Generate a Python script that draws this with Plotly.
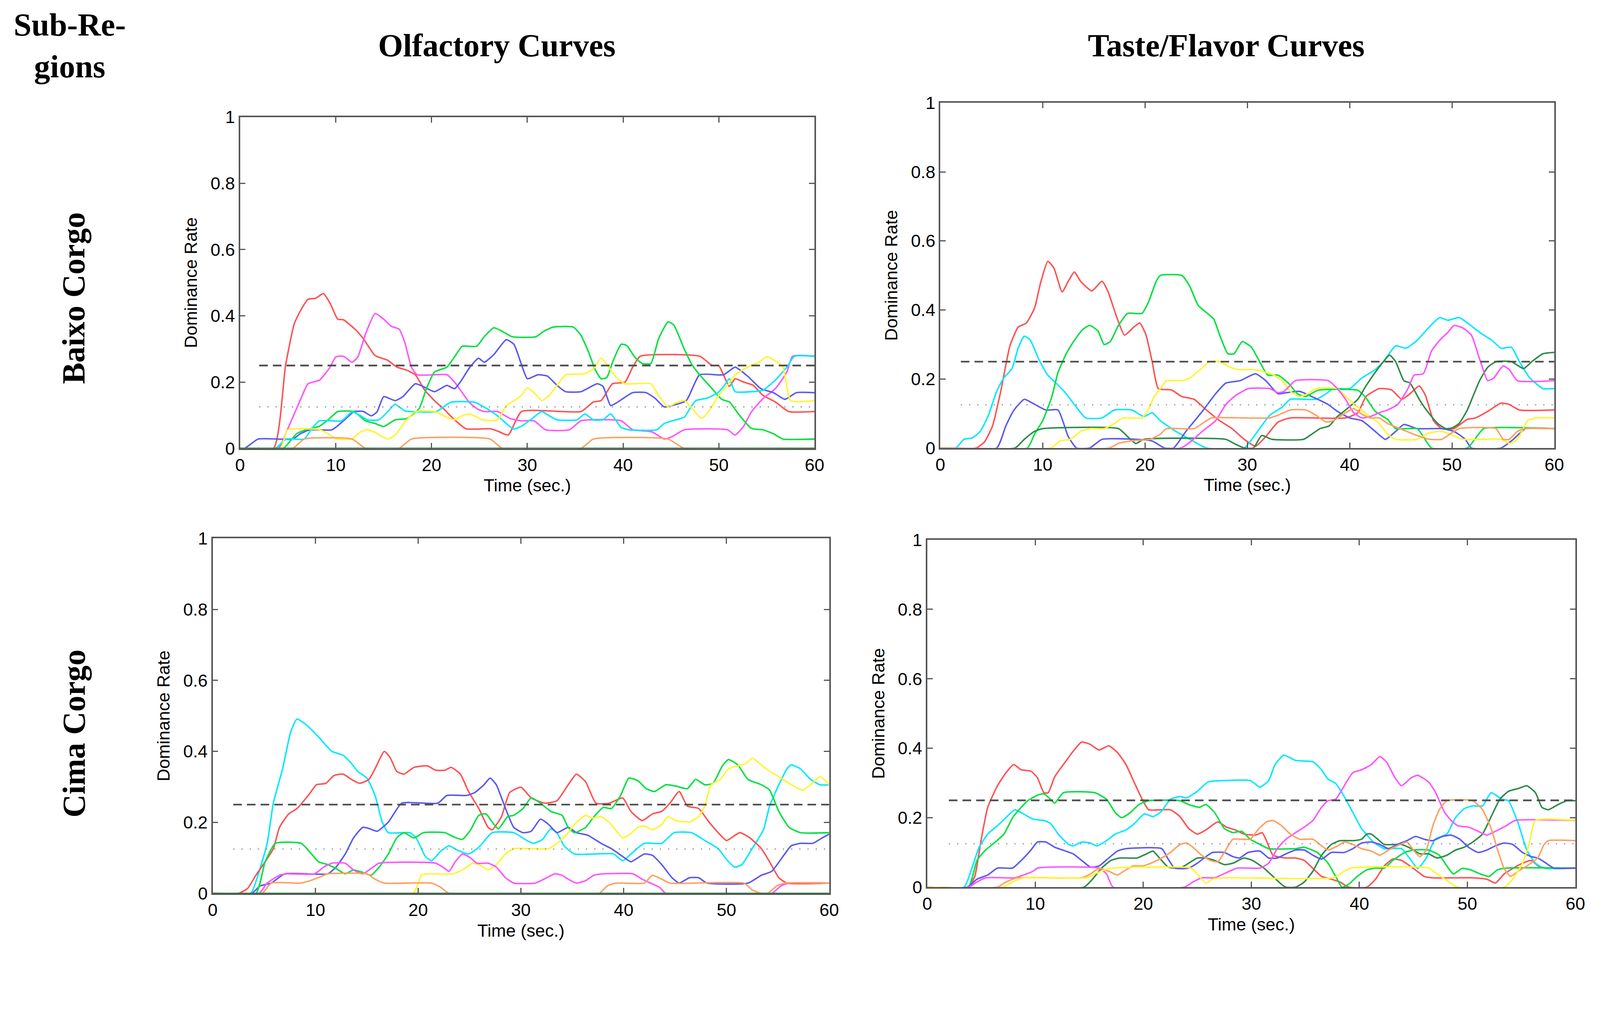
import plotly.graph_objects as go

# ---------------- data: (time in s, dominance rate) ----------------
# Olfactory / Baixo Corgo
OBC_RED = [(0,0),(3.5,0),(4.75,0.25),(5.66,0.376),(6.3,0.415),(7.1,0.45),(7.9,0.453),(8.7,0.467),(9.4,0.438),(10.2,0.39),(10.8,0.388),(12.1,0.357),(12.9,0.33),(14.1,0.28),(15.4,0.266),(16.4,0.245),(17.4,0.236),(18.3,0.222),(19.3,0.175),(20.3,0.144),(21.2,0.121),(22.4,0.086),(23.6,0.059),(26.1,0.059),(26.9,0.052),(28.0,0.04),(29.4,0.111),(35.6,0.111),(36.9,0.14),(37.7,0.144),(38.9,0.195),(40.2,0.2),(41.0,0.245),(41.8,0.278),(48.0,0.278),(49.3,0.25),(50.0,0.249),(51.1,0.187),(51.7,0.21),(52.6,0.2),(53.6,0.19),(54.6,0.16),(55.9,0.14),(57.3,0.111),(60,0.111)]
OBC_MAG = [(0,0),(4.0,0),(5.0,0.06),(5.9,0.12),(6.5,0.16),(7.1,0.195),(8.3,0.206),(9.4,0.245),(10.0,0.276),(10.8,0.278),(11.7,0.26),(12.3,0.276),(13.1,0.345),(14.1,0.407),(15.0,0.39),(15.8,0.368),(16.6,0.36),(17.2,0.32),(17.9,0.245),(18.5,0.222),(21.6,0.222),(22.4,0.2),(23.2,0.168),(24.0,0.137),(24.9,0.117),(25.5,0.111),(26.9,0.111),(28.2,0.09),(29.4,0.083),(30.7,0.083),(31.9,0.056),(34.4,0.056),(35.6,0.083),(39.8,0.083),(41.0,0.056),(43.0,0.05),(44.3,0.028),(45.1,0.035),(46.4,0.056),(50.9,0.056),(51.7,0.04),(52.6,0.067),(53.4,0.11),(54.6,0.15),(55.9,0.18),(57.1,0.23),(57.7,0.278),(60,0.278)]
OBC_BLUE = [(0,0),(0.5,0),(1.9,0.028),(5.5,0.028),(6.3,0.044),(7.3,0.056),(9.6,0.056),(10.8,0.083),(11.9,0.111),(12.9,0.111),(13.7,0.098),(14.3,0.11),(15.0,0.156),(16.2,0.144),(17.0,0.156),(18.3,0.195),(19.1,0.187),(20.3,0.171),(21.6,0.19),(22.4,0.18),(23.0,0.2),(24.0,0.245),(24.9,0.272),(25.5,0.26),(26.5,0.283),(27.8,0.328),(28.6,0.314),(29.4,0.252),(30.0,0.21),(31.1,0.222),(32.1,0.218),(33.1,0.19),(34.0,0.171),(35.6,0.171),(37.3,0.195),(37.9,0.187),(38.7,0.129),(39.3,0.137),(41.0,0.168),(42.4,0.168),(43.3,0.152),(44.3,0.125),(45.1,0.129),(46.6,0.144),(48.0,0.222),(50.5,0.222),(51.7,0.245),(53.0,0.218),(54.4,0.18),(55.7,0.168),(56.9,0.148),(58.1,0.168),(60,0.168)]
OBC_GREEN = [(0,0),(4.5,0),(5.9,0.044),(6.9,0.056),(8.3,0.067),(9.2,0.086),(10.2,0.111),(11.9,0.111),(13.1,0.083),(14.1,0.075),(15.0,0.066),(16.2,0.086),(17.4,0.09),(18.7,0.12),(19.5,0.183),(20.3,0.23),(21.6,0.245),(22.4,0.276),(23.2,0.308),(24.7,0.308),(25.5,0.337),(26.5,0.364),(27.4,0.353),(28.4,0.337),(30.9,0.337),(31.7,0.353),(32.7,0.366),(34.8,0.366),(35.6,0.341),(36.4,0.29),(37.1,0.237),(37.7,0.21),(38.3,0.214),(38.9,0.26),(39.8,0.314),(40.4,0.31),(41.2,0.276),(42.0,0.256),(42.9,0.256),(43.7,0.33),(44.7,0.382),(45.3,0.372),(46.4,0.299),(47.2,0.252),(48.0,0.222),(49.3,0.18),(50.3,0.148),(51.1,0.14),(52.1,0.102),(53.4,0.06),(54.6,0.056),(55.7,0.044),(56.7,0.028),(60,0.028)]
OBC_CYAN = [(0,0),(3.7,0),(4.8,0.028),(6.7,0.028),(7.5,0.06),(8.3,0.083),(10.6,0.083),(11.7,0.11),(12.5,0.1),(13.3,0.086),(14.5,0.086),(15.4,0.11),(16.2,0.133),(17.2,0.113),(18.1,0.111),(20.5,0.111),(22.0,0.139),(24.5,0.139),(25.7,0.121),(26.9,0.098),(27.8,0.075),(28.6,0.058),(29.4,0.067),(30.5,0.09),(31.5,0.111),(32.3,0.098),(33.1,0.086),(35.2,0.086),(36.0,0.104),(36.9,0.086),(37.9,0.086),(38.7,0.104),(39.8,0.063),(40.6,0.056),(43.5,0.056),(44.3,0.075),(45.5,0.086),(46.4,0.094),(47.0,0.121),(47.6,0.144),(48.8,0.152),(49.9,0.168),(50.5,0.187),(51.1,0.21),(51.7,0.171),(53.4,0.171),(54.6,0.175),(55.9,0.206),(57.1,0.245),(57.9,0.278),(60,0.278)]
OBC_YEL = [(0,0),(4.2,0),(5.0,0.056),(8.3,0.056),(9.2,0.044),(10.0,0.028),(11.7,0.028),(12.5,0.048),(13.3,0.056),(14.1,0.048),(15.4,0.028),(16.2,0.04),(17.4,0.086),(18.3,0.111),(20.3,0.111),(21.6,0.094),(22.4,0.086),(23.2,0.098),(24.0,0.104),(25.3,0.086),(26.9,0.086),(27.8,0.129),(28.6,0.144),(29.4,0.16),(30.0,0.183),(30.7,0.168),(31.5,0.144),(32.3,0.16),(33.1,0.19),(34.0,0.222),(36.0,0.225),(36.9,0.24),(37.7,0.272),(38.5,0.245),(39.3,0.214),(40.2,0.195),(42.9,0.195),(43.7,0.16),(44.7,0.125),(45.5,0.137),(46.4,0.144),(47.2,0.121),(48.2,0.09),(49.0,0.114),(50.0,0.16),(50.9,0.19),(51.7,0.222),(53.0,0.245),(54.2,0.26),(55.0,0.276),(55.9,0.264),(56.7,0.245),(57.5,0.144),(60,0.144)]
OBC_ORA = [(0,0),(5.5,0),(6.7,0.028),(11.7,0.028),(13.1,0),(16.6,0),(17.9,0.028),(26.1,0.028),(27.4,0),(35.6,0),(36.9,0.028),(44.7,0.028),(46.4,0),(60,0)]
OBC_DKG = [(0,0),(60,0)]

# Taste/Flavor / Baixo Corgo
TBC_RED = [(0,0),(3.5,0),(4.3,0.017),(5.1,0.064),(5.9,0.164),(6.8,0.296),(7.6,0.35),(8.4,0.362),(9.2,0.405),(9.8,0.479),(10.5,0.541),(11.1,0.521),(11.9,0.452),(12.5,0.483),(13.1,0.51),(13.7,0.483),(14.8,0.455),(15.8,0.483),(16.4,0.452),(17.2,0.382),(18.0,0.327),(18.9,0.35),(19.5,0.362),(20.1,0.327),(20.7,0.25),(21.3,0.172),(22.6,0.168),(23.6,0.149),(24.8,0.141),(26.0,0.11),(27.3,0.079),(28.5,0.056),(29.7,0.025),(30.8,0.005),(31.8,0.033),(33.0,0.075),(34.2,0.087),(39.6,0.087),(40.8,0.102),(41.6,0.149),(42.9,0.172),(44.1,0.168),(45.1,0.141),(45.9,0.157),(46.8,0.18),(47.4,0.153),(48.2,0.079),(49.0,0.056),(50.2,0.056),(51.5,0.083),(52.3,0.087),(53.5,0.106),(54.8,0.13),(55.6,0.126),(56.6,0.11),(60,0.11)]
TBC_CYAN = [(0,0),(1.5,0),(2.3,0.025),(3.1,0.029),(3.9,0.048),(4.7,0.095),(5.5,0.164),(6.2,0.203),(7.0,0.23),(7.6,0.289),(8.2,0.324),(8.8,0.312),(9.6,0.258),(10.5,0.211),(11.3,0.188),(12.1,0.164),(13.1,0.126),(14.2,0.087),(15.8,0.087),(17.0,0.11),(18.7,0.11),(19.9,0.091),(20.7,0.102),(21.5,0.079),(22.8,0.052),(24.4,0.025),(26.0,0),(29.7,0),(31.0,0.048),(32.2,0.095),(33.4,0.118),(34.2,0.141),(36.7,0.141),(37.7,0.157),(38.4,0.172),(40.0,0.172),(41.2,0.203),(42.5,0.227),(43.3,0.25),(44.5,0.296),(45.5,0.289),(46.6,0.312),(47.8,0.351),(48.8,0.378),(49.6,0.37),(50.7,0.378),(51.7,0.358),(52.7,0.335),(53.9,0.312),(54.8,0.289),(55.8,0.292),(56.6,0.25),(57.6,0.203),(58.9,0.172),(60,0.172)]
TBC_BLUE = [(0,0),(5.5,0),(6.4,0.064),(7.2,0.11),(8.2,0.141),(9.0,0.13),(10.3,0.11),(11.5,0.11),(12.5,0.033),(13.3,0),(14.6,0),(15.8,0.025),(19.1,0.025),(20.7,0.02),(21.9,0),(22.8,0),(24.0,0.048),(25.6,0.106),(26.9,0.157),(27.9,0.188),(29.3,0.195),(30.8,0.215),(31.8,0.195),(33.0,0.157),(33.8,0.16),(35.1,0.164),(36.3,0.149),(37.9,0.126),(38.8,0.106),(40.0,0.087),(41.2,0.079),(42.5,0.048),(43.5,0.025),(44.5,0.048),(45.3,0.068),(46.6,0.056),(49.0,0.056),(50.2,0.048),(51.3,0.025),(51.9,0),(54.8,0),(56.0,0.025),(57.2,0.056),(60,0.056)]
TBC_GREEN = [(0,0),(8.5,0),(9.2,0.04),(10.0,0.079),(10.9,0.149),(11.5,0.219),(12.3,0.273),(13.1,0.312),(13.9,0.343),(14.6,0.355),(15.4,0.339),(16.0,0.3),(16.6,0.308),(17.4,0.355),(18.3,0.39),(19.7,0.39),(20.3,0.42),(21.1,0.483),(21.5,0.5),(23.6,0.5),(24.4,0.467),(25.2,0.413),(26.7,0.374),(27.3,0.327),(28.1,0.273),(28.7,0.273),(29.5,0.308),(30.4,0.292),(31.2,0.25),(32.0,0.211),(33.0,0.211),(34.0,0.188),(34.9,0.157),(35.7,0.149),(36.9,0.167),(40.8,0.167),(41.6,0.145),(42.5,0.106),(43.7,0.083),(44.5,0.056),(46.6,0.056),(47.2,0.033),(48.0,0),(51.5,0),(52.5,0.036),(53.1,0.056),(60,0.056)]
TBC_DKG = [(0,0),(7.3,0),(8.2,0.025),(9.2,0.048),(10.0,0.056),(17.4,0.056),(18.3,0.033),(19.1,0.013),(19.9,0.025),(27.9,0.025),(28.7,0.013),(29.7,0),(30.6,0),(31.4,0.036),(32.4,0.025),(35.5,0.025),(36.3,0.04),(37.1,0.056),(38.0,0.064),(38.8,0.091),(39.6,0.11),(40.8,0.141),(41.6,0.18),(42.5,0.219),(43.3,0.25),(43.9,0.269),(44.5,0.25),(45.3,0.195),(45.9,0.188),(46.8,0.141),(47.6,0.106),(48.6,0.071),(49.4,0.056),(50.0,0.058),(50.7,0.071),(51.5,0.11),(52.1,0.153),(52.7,0.195),(53.5,0.234),(54.3,0.25),(55.8,0.25),(57.0,0.23),(57.8,0.25),(58.9,0.273),(60,0.277)]
TBC_YEL = [(0,0),(10.8,0),(11.7,0.021),(12.7,0.025),(13.7,0.048),(14.6,0.056),(16.0,0.056),(17.0,0.071),(17.8,0.087),(19.7,0.087),(20.3,0.11),(20.9,0.149),(21.5,0.172),(22.1,0.195),(23.6,0.195),(24.4,0.203),(25.4,0.227),(26.3,0.25),(27.3,0.25),(28.3,0.234),(29.1,0.227),(30.6,0.227),(31.8,0.219),(32.6,0.211),(33.4,0.195),(34.2,0.164),(35.1,0.149),(35.9,0.157),(36.7,0.172),(38.8,0.172),(39.6,0.149),(40.8,0.118),(41.8,0.095),(42.9,0.071),(43.7,0.04),(44.5,0.025),(46.6,0.025),(47.8,0.044),(49.0,0.048),(49.8,0.04),(51.1,0.025),(54.8,0.025),(55.6,0.013),(56.4,0.025),(57.4,0.079),(58.2,0.087),(60,0.087)]
TBC_MAG = [(0,0),(23.5,0),(24.4,0.017),(25.6,0.048),(26.9,0.079),(27.9,0.126),(28.9,0.153),(30.1,0.172),(32.2,0.172),(33.0,0.16),(33.6,0.164),(34.7,0.195),(37.9,0.195),(38.8,0.172),(39.6,0.141),(40.4,0.102),(41.2,0.087),(42.0,0.091),(42.9,0.102),(43.7,0.11),(44.7,0.126),(45.7,0.172),(46.3,0.211),(47.2,0.215),(48.0,0.281),(48.8,0.312),(49.6,0.335),(50.2,0.355),(51.1,0.347),(51.9,0.327),(52.7,0.258),(53.5,0.195),(54.1,0.203),(55.0,0.238),(55.6,0.227),(56.4,0.195),(60,0.195)]
TBC_ORA = [(0,0),(16.5,0),(17.4,0.013),(18.7,0.021),(20.5,0.025),(21.5,0.04),(22.1,0.056),(24.8,0.056),(26.0,0.079),(26.5,0.087),(32.2,0.087),(33.0,0.095),(34.2,0.11),(35.7,0.11),(36.7,0.095),(37.7,0.075),(38.4,0.079),(39.6,0.102),(40.4,0.114),(41.2,0.098),(42.0,0.087),(42.9,0.087),(43.7,0.071),(44.9,0.056),(46.6,0.036),(47.8,0.025),(49.0,0.025),(49.8,0.04),(50.7,0.056),(54.3,0.056),(55.0,0.025),(55.6,0.025),(56.4,0.048),(57.2,0.056),(60,0.056)]

# Olfactory / Cima Corgo
OCC_CYAN = [(0,0),(3.7,0),(4.4,0.051),(5.3,0.141),(5.9,0.254),(6.8,0.351),(7.6,0.456),(8.2,0.491),(9.1,0.475),(10.3,0.441),(11.6,0.4),(12.7,0.389),(13.5,0.366),(14.1,0.344),(15.0,0.325),(15.8,0.276),(16.5,0.201),(17.1,0.171),(19.2,0.171),(19.8,0.156),(20.7,0.104),(21.3,0.092),(22.2,0.119),(23.0,0.134),(23.8,0.122),(24.9,0.111),(25.9,0.13),(27.2,0.171),(29.3,0.171),(30.4,0.152),(31.2,0.141),(32.1,0.152),(32.9,0.182),(33.5,0.171),(34.2,0.134),(35.2,0.111),(39.0,0.111),(39.9,0.092),(40.7,0.111),(42.0,0.141),(43.7,0.141),(44.9,0.171),(46.6,0.171),(47.9,0.149),(49.2,0.126),(50.0,0.096),(50.8,0.074),(51.5,0.081),(52.5,0.126),(53.6,0.179),(54.2,0.246),(55.1,0.306),(55.9,0.351),(56.3,0.362),(57.2,0.351),(58.2,0.321),(59.1,0.306),(60,0.306)]
OCC_RED = [(0,0),(2.5,0),(3.4,0.014),(4.2,0.051),(5.1,0.089),(5.9,0.126),(6.5,0.186),(7.4,0.224),(8.2,0.239),(9.3,0.276),(10.1,0.306),(11.0,0.31),(11.8,0.332),(12.7,0.336),(13.5,0.321),(14.3,0.31),(15.2,0.321),(15.8,0.351),(16.7,0.4),(17.3,0.381),(17.9,0.344),(18.6,0.336),(19.6,0.355),(20.9,0.359),(21.7,0.347),(22.6,0.347),(23.2,0.355),(24.1,0.336),(24.9,0.287),(25.9,0.239),(26.8,0.186),(27.2,0.179),(28.1,0.216),(28.9,0.284),(30.0,0.299),(31.0,0.269),(32.3,0.254),(33.5,0.261),(34.6,0.306),(35.4,0.336),(36.3,0.314),(37.3,0.254),(38.6,0.254),(39.9,0.269),(40.7,0.231),(41.8,0.205),(42.8,0.224),(43.7,0.231),(44.5,0.254),(45.4,0.287),(46.2,0.246),(47.3,0.239),(48.3,0.201),(49.2,0.171),(50.0,0.149),(51.3,0.171),(52.3,0.156),(53.4,0.126),(54.2,0.089),(55.1,0.044),(55.9,0.029),(60,0.029)]
OCC_BLUE = [(0,0),(3.8,0),(4.6,0.021),(5.7,0.029),(7.0,0.055),(11.2,0.055),(12.0,0.074),(12.9,0.111),(13.7,0.156),(14.6,0.186),(15.2,0.183),(16.0,0.175),(17.1,0.201),(18.4,0.254),(21.9,0.254),(22.8,0.276),(24.7,0.276),(25.5,0.284),(26.4,0.306),(27.0,0.325),(27.6,0.306),(28.5,0.239),(29.3,0.186),(30.2,0.171),(31.0,0.175),(31.9,0.209),(32.7,0.194),(33.5,0.171),(34.6,0.186),(35.4,0.171),(36.5,0.164),(37.8,0.141),(38.8,0.126),(39.9,0.104),(40.7,0.089),(42.0,0.111),(42.8,0.107),(43.7,0.081),(44.7,0.044),(45.4,0.029),(46.4,0.044),(47.3,0.044),(48.1,0.029),(52.1,0.029),(53.4,0.051),(54.4,0.062),(55.5,0.104),(56.3,0.134),(57.2,0.141),(58.4,0.141),(59.3,0.156),(60,0.167)]
OCC_GREEN = [(0,0),(4.2,0),(5.1,0.089),(6.1,0.141),(8.6,0.141),(9.5,0.115),(10.3,0.089),(11.2,0.081),(12.0,0.07),(12.9,0.055),(13.7,0.066),(14.6,0.059),(15.4,0.051),(16.2,0.074),(17.1,0.111),(17.9,0.156),(18.6,0.171),(19.6,0.156),(20.5,0.171),(22.6,0.171),(23.4,0.16),(24.3,0.152),(25.1,0.179),(25.9,0.22),(26.6,0.224),(27.2,0.201),(27.8,0.182),(28.7,0.216),(29.3,0.22),(30.2,0.239),(31.0,0.269),(31.9,0.254),(32.9,0.231),(34.0,0.22),(34.6,0.186),(35.2,0.171),(36.3,0.186),(37.1,0.216),(38.0,0.242),(38.8,0.239),(39.7,0.276),(40.5,0.325),(41.4,0.317),(42.2,0.295),(43.0,0.287),(44.1,0.306),(45.1,0.302),(46.2,0.295),(47.0,0.321),(47.9,0.306),(48.7,0.31),(49.6,0.359),(50.2,0.377),(51.1,0.362),(52.1,0.321),(53.4,0.306),(54.2,0.291),(55.1,0.231),(56.1,0.186),(57.2,0.171),(60,0.171)]
OCC_YEL = [(0,0),(19.5,0),(20.3,0.051),(20.9,0.055),(23.4,0.055),(24.3,0.066),(25.3,0.085),(26.2,0.077),(26.8,0.066),(27.6,0.081),(28.5,0.111),(29.3,0.126),(32.7,0.126),(33.5,0.141),(34.4,0.164),(35.2,0.194),(36.3,0.22),(36.9,0.212),(37.8,0.216),(38.8,0.194),(39.9,0.156),(40.5,0.164),(41.4,0.186),(42.0,0.19),(42.8,0.179),(43.7,0.194),(44.3,0.216),(45.1,0.205),(46.4,0.201),(47.3,0.216),(47.9,0.246),(48.5,0.306),(49.4,0.321),(50.2,0.351),(51.1,0.359),(51.9,0.366),(52.5,0.381),(53.4,0.362),(54.2,0.344),(55.3,0.325),(56.3,0.306),(57.4,0.291),(58.2,0.306),(59.1,0.329),(60,0.306)]
OCC_MAG = [(0,0),(4.5,0),(5.3,0.029),(6.5,0.051),(7.2,0.055),(9.9,0.055),(10.8,0.074),(11.6,0.085),(12.9,0.085),(13.7,0.066),(14.6,0.055),(15.6,0.074),(16.2,0.085),(21.7,0.085),(22.6,0.07),(23.0,0.062),(23.6,0.089),(24.3,0.111),(25.1,0.1),(25.7,0.085),(26.8,0.085),(27.6,0.074),(28.5,0.044),(29.3,0.029),(31.4,0.029),(32.5,0.044),(33.3,0.055),(34.0,0.051),(34.6,0.04),(35.4,0.029),(36.3,0.036),(37.1,0.051),(38.0,0.055),(40.9,0.055),(41.8,0.04),(42.6,0.029),(43.5,0.017),(44.1,0),(54.4,0),(55.3,0.021),(56.1,0.029),(60,0.029)]
OCC_ORA = [(0,0),(4.8,0),(5.7,0.029),(8.6,0.029),(9.5,0.036),(10.5,0.047),(11.2,0.055),(15.0,0.055),(15.8,0.04),(16.7,0.029),(21.3,0.029),(22.2,0.017),(23.0,0),(37.6,0),(38.4,0.021),(39.2,0.029),(42.0,0.029),(42.8,0.051),(43.7,0.04),(44.5,0.029),(51.7,0.029),(52.5,0.01),(53.4,0),(54.0,0),(54.9,0.021),(55.7,0.029),(60,0.029)]
OCC_DKG = [(0,0),(60,0)]

# Taste/Flavor / Cima Corgo
TCC_RED = [(0,0),(3.8,0),(4.4,0.031),(5.0,0.138),(5.6,0.23),(6.5,0.292),(7.3,0.33),(8.0,0.353),(8.7,0.338),(9.6,0.334),(10.2,0.315),(10.8,0.272),(11.2,0.272),(11.8,0.318),(12.6,0.353),(13.5,0.391),(14.3,0.418),(15.1,0.411),(15.9,0.395),(16.8,0.407),(17.6,0.388),(18.4,0.353),(19.2,0.299),(19.9,0.253),(20.5,0.223),(22.5,0.223),(23.4,0.203),(24.2,0.169),(25.0,0.153),(25.8,0.165),(26.9,0.188),(27.7,0.173),(28.5,0.165),(29.3,0.153),(30.4,0.15),(31.0,0.157),(31.4,0.134),(32.0,0.092),(33.2,0.084),(34.1,0.084),(34.9,0.077),(35.7,0.054),(36.5,0.031),(37.4,0.023),(38.2,0.015),(39.0,0),(40.7,0),(41.5,0.023),(42.3,0.061),(43.1,0.081),(43.9,0.077),(45.0,0.054),(46.0,0.031),(46.8,0.027),(50.5,0.027),(51.8,0.023),(52.6,0.012),(53.4,0.038),(54.2,0.054),(55.1,0.069),(55.9,0.077),(56.7,0.058),(57.5,0.055),(60,0.055)]
TCC_CYAN = [(0,0),(3.4,0),(4.2,0.061),(4.8,0.115),(5.6,0.153),(6.5,0.177),(7.5,0.207),(8.1,0.223),(8.9,0.211),(9.8,0.196),(10.8,0.192),(11.4,0.184),(12.2,0.15),(13.1,0.123),(13.5,0.119),(14.3,0.13),(15.1,0.127),(15.7,0.119),(16.6,0.134),(17.4,0.153),(18.4,0.165),(19.2,0.184),(20.1,0.211),(20.9,0.203),(21.7,0.219),(22.5,0.253),(23.4,0.261),(24.0,0.257),(25.0,0.276),(26.0,0.303),(27.5,0.307),(29.9,0.307),(30.8,0.288),(31.6,0.307),(32.2,0.353),(33.0,0.38),(34.1,0.365),(35.7,0.361),(36.5,0.338),(37.1,0.311),(37.8,0.299),(38.6,0.261),(39.4,0.215),(40.2,0.169),(41.3,0.13),(42.3,0.111),(43.9,0.111),(44.8,0.077),(45.4,0.054),(46.2,0.084),(47.0,0.138),(48.1,0.153),(48.9,0.2),(49.7,0.226),(50.5,0.234),(51.4,0.234),(52.2,0.272),(53.2,0.253),(53.8,0.249),(54.7,0.184),(55.5,0.107),(56.3,0.069),(57.1,0.055),(60,0.055)]
TCC_GREEN = [(0,0),(3.8,0),(4.6,0.077),(5.4,0.107),(6.3,0.13),(7.1,0.153),(7.9,0.2),(8.7,0.23),(9.3,0.249),(10.2,0.265),(10.8,0.269),(11.4,0.253),(11.8,0.242),(12.6,0.272),(15.5,0.272),(16.6,0.253),(17.4,0.215),(18.0,0.2),(18.8,0.215),(19.6,0.238),(20.5,0.249),(23.4,0.249),(24.2,0.238),(25.2,0.23),(25.8,0.238),(26.6,0.215),(27.5,0.169),(28.3,0.157),(29.1,0.161),(29.9,0.138),(30.8,0.123),(31.6,0.111),(34.1,0.111),(34.9,0.115),(36.1,0.1),(37.1,0.069),(37.8,0.031),(38.4,0),(39.0,0.008),(39.8,0.031),(40.7,0.05),(41.5,0.055),(42.3,0.055),(43.1,0.077),(44.2,0.1),(45.0,0.107),(46.4,0.107),(47.4,0.092),(48.1,0.061),(48.7,0.038),(49.5,0.054),(50.3,0.05),(51.2,0.038),(52.0,0.031),(52.8,0.05),(53.6,0.055),(60,0.055)]
TCC_DKG = [(0,0),(14.5,0),(15.3,0.023),(16.1,0.054),(17.0,0.077),(17.8,0.084),(19.4,0.084),(20.3,0.096),(20.9,0.104),(21.5,0.084),(22.3,0.058),(23.4,0.055),(24.2,0.069),(25.0,0.084),(25.8,0.084),(26.6,0.077),(27.5,0.065),(28.3,0.069),(29.3,0.084),(30.1,0.077),(31.2,0.054),(32.0,0.031),(32.8,0.008),(33.2,0),(34.1,0),(34.9,0.015),(35.7,0.046),(36.5,0.092),(37.4,0.123),(38.2,0.134),(39.4,0.134),(40.2,0.138),(40.7,0.153),(41.1,0.153),(41.7,0.138),(42.3,0.123),(43.9,0.123),(44.8,0.111),(45.6,0.096),(46.4,0.096),(47.2,0.084),(48.1,0.092),(48.9,0.107),(49.7,0.115),(50.5,0.13),(51.4,0.153),(52.2,0.203),(53.0,0.253),(53.8,0.276),(54.7,0.284),(55.5,0.292),(56.3,0.272),(56.9,0.23),(57.5,0.223),(58.4,0.238),(59.2,0.249),(60,0.249)]
TCC_BLUE = [(0,0),(3.7,0),(4.6,0.023),(5.6,0.035),(6.5,0.055),(7.9,0.055),(8.7,0.077),(9.6,0.107),(10.2,0.13),(11.0,0.13),(11.8,0.115),(12.8,0.104),(13.5,0.096),(14.3,0.077),(15.1,0.058),(15.9,0.061),(16.8,0.084),(17.6,0.104),(18.4,0.111),(21.7,0.111),(22.3,0.081),(22.9,0.055),(24.2,0.055),(25.0,0.069),(25.8,0.088),(26.4,0.1),(27.5,0.1),(28.3,0.088),(28.9,0.084),(29.7,0.1),(30.8,0.104),(31.6,0.084),(32.4,0.084),(33.2,0.096),(34.1,0.107),(34.9,0.107),(35.7,0.092),(36.5,0.081),(37.4,0.1),(38.6,0.1),(39.4,0.111),(40.2,0.127),(41.1,0.13),(41.9,0.123),(42.7,0.111),(43.5,0.123),(44.4,0.134),(45.2,0.146),(46.0,0.138),(46.8,0.134),(47.7,0.146),(48.5,0.15),(49.3,0.138),(50.1,0.115),(51.0,0.1),(51.8,0.107),(52.6,0.119),(53.4,0.127),(54.2,0.123),(55.1,0.1),(55.9,0.088),(56.5,0.084),(57.1,0.073),(58.0,0.055),(60,0.055)]
TCC_MAG = [(0,0),(3.8,0),(4.6,0.015),(5.4,0.027),(8.1,0.027),(8.9,0.035),(9.8,0.046),(10.2,0.055),(15.9,0.055),(16.6,0.038),(17.2,0),(23.8,0),(24.6,0.015),(25.4,0.027),(26.6,0.027),(27.7,0.042),(28.7,0.055),(30.8,0.055),(31.6,0.069),(32.4,0.111),(33.2,0.138),(34.1,0.157),(34.9,0.173),(35.7,0.192),(36.5,0.23),(37.1,0.249),(37.8,0.253),(38.6,0.292),(39.4,0.33),(40.2,0.338),(41.1,0.353),(41.9,0.376),(42.5,0.361),(43.3,0.315),(43.9,0.292),(44.8,0.315),(45.4,0.322),(46.4,0.303),(47.0,0.276),(47.9,0.215),(48.5,0.192),(49.1,0.177),(50.1,0.173),(51.0,0.161),(51.8,0.15),(52.6,0.161),(53.6,0.177),(54.4,0.192),(60,0.192)]
TCC_ORA = [(0,0),(6.5,0),(7.3,0.015),(8.3,0.027),(14.3,0.027),(15.1,0.038),(15.9,0.054),(16.8,0.046),(17.6,0.035),(18.2,0.046),(19.0,0.061),(19.9,0.061),(20.7,0.069),(21.7,0.084),(22.5,0.1),(23.4,0.123),(24.0,0.127),(24.6,0.115),(25.4,0.092),(26.2,0.077),(26.9,0.073),(27.5,0.1),(28.3,0.138),(29.9,0.138),(30.6,0.165),(31.4,0.188),(32.0,0.192),(32.8,0.177),(33.6,0.153),(34.5,0.138),(35.7,0.138),(36.5,0.119),(37.1,0.107),(38.0,0.119),(38.6,0.13),(39.4,0.123),(40.2,0.111),(41.1,0.104),(41.9,0.092),(42.7,0.107),(43.5,0.119),(44.4,0.13),(45.0,0.107),(45.6,0.088),(46.2,0.107),(46.8,0.177),(47.4,0.223),(48.1,0.249),(50.5,0.249),(51.4,0.223),(52.2,0.169),(52.8,0.107),(53.4,0.054),(54.0,0.031),(54.7,0.046),(55.5,0.061),(56.5,0.084),(57.1,0.123),(57.5,0.134),(60,0.134)]
TCC_YEL = [(0,0),(7.0,0),(7.9,0.015),(8.9,0.027),(14.7,0.027),(15.5,0.038),(16.4,0.05),(17.2,0.055),(24.4,0.055),(25.0,0.038),(25.8,0.012),(26.4,0.023),(27.3,0.027),(37.6,0.027),(38.4,0.042),(39.2,0.055),(46.4,0.055),(47.2,0.038),(48.3,0.015),(49.1,0),(53.4,0),(54.2,0.023),(55.1,0.069),(55.7,0.123),(56.3,0.192),(60,0.192)]

# reference lines: chance level and significance level
CHANCE = 0.125
SIGNIF = 0.25
REF_T = [2, 60]

X_TICKS = [0, 10, 20, 30, 40, 50, 60]
Y_TICKS = [0, 0.2, 0.4, 0.6, 0.8, 1]
COL_TITLES = ["Olfactory Curves", "Taste/Flavor Curves"]
ROW_TITLES = ["Baixo Corgo", "Cima Corgo"]
CORNER_TITLE = "Sub-Re-<br>gions"

COLORS = {
    "red": "#FF5252", "mag": "#FF55FF", "blue": "#5A5AF0", "green": "#00E040",
    "cyan": "#00E8FF", "yel": "#FFF530", "ora": "#FFA060", "dkg": "#2E8A46",
}

PANELS = [
    ({"red": OBC_RED, "mag": OBC_MAG, "blue": OBC_BLUE, "green": OBC_GREEN, "cyan": OBC_CYAN, "yel": OBC_YEL, "ora": OBC_ORA, "dkg": OBC_DKG}, ""),
    ({"red": TBC_RED, "cyan": TBC_CYAN, "blue": TBC_BLUE, "green": TBC_GREEN, "dkg": TBC_DKG, "yel": TBC_YEL, "mag": TBC_MAG, "ora": TBC_ORA}, "2"),
    ({"cyan": OCC_CYAN, "red": OCC_RED, "blue": OCC_BLUE, "green": OCC_GREEN, "yel": OCC_YEL, "mag": OCC_MAG, "ora": OCC_ORA, "dkg": OCC_DKG}, "3"),
    ({"red": TCC_RED, "cyan": TCC_CYAN, "green": TCC_GREEN, "dkg": TCC_DKG, "blue": TCC_BLUE, "mag": TCC_MAG, "ora": TCC_ORA, "yel": TCC_YEL}, "4"),
]

# target positions measured on the 4376x2619 picture (left, right, top, bottom)
REF_W, REF_H = 4376, 2619
BOXES = [(652, 2228, 322, 1230), (2573, 4257, 283, 1229), (577, 2268, 1477, 2450), (2537, 4315, 1481, 2433)]

# page-to-picture calibration (observed from previous renders)
AX, BX = 1.0616, 16.0
AY, BY = 1.0487, 36.4
W = int(round((REF_W - BX) / AX))
H = int(round((REF_H - BY) / AY))
SC = 2.0 / (AX + AY)


def fx(px):
    return (px - BX) / (REF_W - BX)


def fy(py):
    return 1 - (py - BY) / (REF_H - BY)


fig = go.Figure()

for (series, suf), box in zip(PANELS, BOXES):
    xa, ya = "x" + suf, "y" + suf
    for key, pts in series.items():
        fig.add_trace(go.Scatter(
            x=[p[0] for p in pts], y=[p[1] for p in pts], mode="lines",
            line=dict(color=COLORS[key], width=4 * SC, shape="spline", smoothing=0.5),
            xaxis=xa, yaxis=ya, showlegend=False, hoverinfo="skip"))
    fig.add_trace(go.Scatter(x=REF_T, y=[SIGNIF, SIGNIF], mode="lines",
                             line=dict(color="#505050", width=4.5 * SC, dash="22px,13px"),
                             xaxis=xa, yaxis=ya, showlegend=False, hoverinfo="skip"))
    fig.add_trace(go.Scatter(x=REF_T, y=[CHANCE, CHANCE], mode="lines",
                             line=dict(color="#888888", width=3 * SC, dash="3px,18px"),
                             xaxis=xa, yaxis=ya, showlegend=False, hoverinfo="skip"))

FS = round(48 * SC)
tick_font = dict(family="Liberation Sans, Arial", size=FS, color="black")
axis_style = dict(showline=True, linecolor="#555555", linewidth=4 * SC, mirror="ticks",
                  ticks="inside", ticklen=round(15 * SC), tickwidth=3 * SC, tickcolor="#555555",
                  showgrid=False, zeroline=False, tickfont=tick_font)

layout = dict(width=W, height=H, margin=dict(l=0, r=0, t=0, b=0),
              paper_bgcolor="white", plot_bgcolor="white",
              font=dict(family="Liberation Sans, Arial", color="black"))

for (series, suf), (l, r, t, b) in zip(PANELS, BOXES):
    layout["xaxis" + suf] = dict(
        domain=[fx(l), fx(r)], anchor="y" + suf, range=[0, 60], tickvals=X_TICKS,
        title=dict(text="Time (sec.)", font=dict(family="Liberation Sans, Arial", size=FS), standoff=round(14 * SC)),
        **axis_style)
    layout["yaxis" + suf] = dict(
        domain=[fy(b), fy(t)], anchor="x" + suf, range=[0, 1], tickvals=Y_TICKS,
        title=dict(text="Dominance Rate", font=dict(family="Liberation Sans, Arial", size=FS), standoff=round(22 * SC)),
        **axis_style)

fig.update_layout(**layout)

serif = dict(family="Liberation Serif, Times New Roman", size=round(86 * SC), color="black")
ann = [
    dict(text="<b>%s</b>" % COL_TITLES[0], x=fx(1357), y=fy(126)),
    dict(text="<b>%s</b>" % COL_TITLES[1], x=fx(3357), y=fy(126)),
    dict(text="<b>%s</b>" % CORNER_TITLE, x=fx(185), y=fy(126)),
    dict(text="<b>%s</b>" % ROW_TITLES[0], x=fx(196), y=fy(818), textangle=-90),
    dict(text="<b>%s</b>" % ROW_TITLES[1], x=fx(196), y=fy(2012), textangle=-90),
]
for a in ann:
    fig.add_annotation(xref="paper", yref="paper", showarrow=False,
                       xanchor="center", yanchor="middle", font=serif, **a)

fig.write_html("out.html")
